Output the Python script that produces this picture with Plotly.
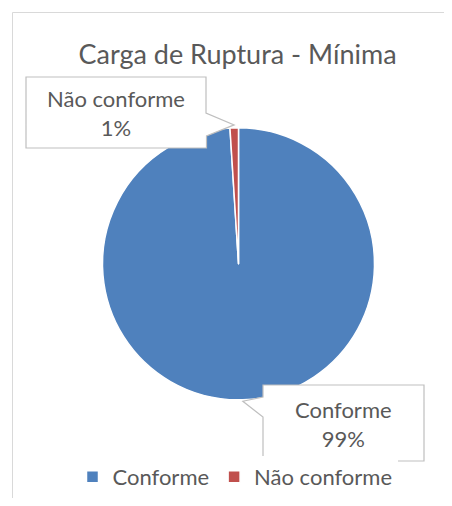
import math
import plotly.graph_objects as go

# ---- data ----
categories = ["Conforme", "Não conforme"]
values = [99, 1]
pct_labels = ["99%", "1%"]
colors = ["#4f81bd", "#c0504d"]
title_text = "Carga de Ruptura - Mínima"

OFF = 8  # page body margin
W, H = 452 - OFF, 506 - 2 * OFF
TXT = "#595959"
FONT = "Lato"


def px(x):
    return (x - OFF) / W


def py(y):
    return 1 - (y - OFF) / H


# pie geometry (page pixels)
cx, cy, r = 238.5, 263.8, 136.0

fig = go.Figure()
fig.add_trace(go.Pie(
    labels=categories,
    values=values,
    sort=False,
    direction="clockwise",
    rotation=0,
    marker=dict(colors=colors, line=dict(color="white", width=1.5)),
    textinfo="none",
    hoverinfo="label+percent",
    domain=dict(x=[px(cx - r), px(cx + r)], y=[py(cy + r), py(cy - r)]),
))

# mid angles of slices (clockwise from 12 o'clock) computed from data
total = sum(values)
mids = []
acc = 0
for v in values:
    mids.append((acc + v / 2) / total * 360)
    acc += v


def tip(i, rr):
    a = math.radians(mids[i])
    return cx + rr * math.sin(a), cy - rr * math.cos(a)


def path(points):
    return "M " + " L ".join(f"{px(x):.5f},{py(y):.5f}" for x, y in points) + " Z"


shapes = []
# chart frame (top + left edges visible)
shapes.append(dict(type="line", xref="paper", yref="paper",
                   x0=px(12.5), y0=py(12.5), x1=px(460), y1=py(12.5),
                   line=dict(color="#d9d9d9", width=1)))
shapes.append(dict(type="line", xref="paper", yref="paper",
                   x0=px(12.5), y0=py(12.5), x1=px(12.5), y1=py(510),
                   line=dict(color="#d9d9d9", width=1)))

# callout for Conforme
t0 = tip(0, r + 1.5)
box0 = [(263, 385), (424, 385), (424, 461), (263, 461), (263, 417), t0, (263, 397)]
# callout for Não conforme
t1 = tip(1, r + 3)
box1 = [(26, 77), (206, 77), (206, 113), t1, (206.5, 136), (206.5, 148), (26, 148)]
for b in (box0, box1):
    shapes.append(dict(type="path", xref="paper", yref="paper", path=path(b),
                       fillcolor="white", line=dict(color="#bfbfbf", width=1.2),
                       layer="above"))

annotations = [
    dict(x=px(343.5), y=py(424), xref="paper", yref="paper",
         xanchor="center", yanchor="middle",
         text=f"{categories[0]}<br>{pct_labels[0]}", showarrow=False,
         font=dict(family=FONT, size=22, color=TXT), align="center"),
    dict(x=px(116), y=py(113), xref="paper", yref="paper",
         xanchor="center", yanchor="middle",
         text=f"{categories[1]}<br>{pct_labels[1]}", showarrow=False,
         font=dict(family=FONT, size=22, color=TXT), align="center"),
]

fig.update_layout(
    width=W, height=H,
    margin=dict(l=0, r=0, t=0, b=0),
    paper_bgcolor="white",
    plot_bgcolor="white",
    title=dict(text=title_text, x=px(237.5), y=py(55), xanchor="center",
               yanchor="middle", font=dict(family=FONT, size=27, color=TXT)),
    showlegend=True,
    legend=dict(orientation="h", x=px(235), y=py(477), xanchor="center",
                yanchor="middle", font=dict(family=FONT, size=22, color=TXT),
                itemclick=False),
    shapes=shapes,
    annotations=annotations,
)

fig.write_html("out.html",
               post_script="document.documentElement.style.overflow='hidden';")
